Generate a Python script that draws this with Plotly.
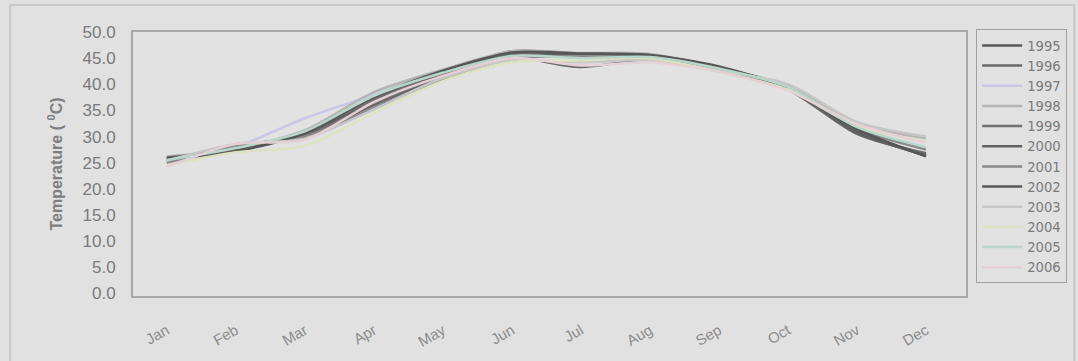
import plotly.graph_objects as go

# Monthly mean maximum temperature (°C), one series per year
months = ["Jan", "Feb", "Mar", "Apr", "May", "Jun",
          "Jul", "Aug", "Sep", "Oct", "Nov", "Dec"]

t1995 = [25.8, 27.8, 30.8, 37.2, 42.2, 46.3, 45.8, 45.6, 43.2, 39.5, 31.2, 26.3]
t1996 = [25.3, 28.2, 30.2, 36.0, 41.4, 45.0, 43.3, 44.8, 42.9, 39.0, 30.5, 26.8]
t1997 = [24.8, 28.0, 33.5, 38.0, 42.4, 45.6, 45.5, 45.3, 43.3, 39.2, 32.5, 29.0]
t1998 = [26.2, 27.6, 31.2, 38.5, 42.8, 46.3, 46.0, 45.8, 43.0, 39.8, 32.5, 29.6]
t1999 = [25.6, 28.0, 30.5, 37.0, 42.0, 45.8, 45.6, 45.4, 43.2, 39.4, 31.0, 26.6]
t2000 = [26.0, 27.5, 30.6, 36.5, 41.8, 45.2, 45.8, 45.2, 42.8, 39.3, 30.8, 26.4]
t2001 = [25.0, 28.3, 30.0, 35.5, 41.0, 44.8, 45.4, 44.9, 42.8, 39.6, 31.5, 27.5]
t2002 = [25.8, 27.2, 30.6, 37.6, 42.6, 46.1, 45.9, 45.6, 43.4, 39.2, 31.4, 26.2]
t2003 = [25.4, 28.6, 29.6, 35.2, 41.2, 44.6, 44.2, 44.6, 42.6, 40.0, 32.8, 30.0]
t2004 = [24.5, 27.0, 28.2, 34.5, 40.6, 44.2, 44.6, 45.0, 42.4, 39.0, 32.0, 29.2]
t2005 = [25.5, 27.8, 31.0, 37.8, 42.2, 45.4, 45.0, 45.2, 43.0, 39.5, 31.8, 28.0]
t2006 = [24.2, 28.6, 29.4, 36.6, 41.6, 45.0, 43.6, 44.2, 42.4, 38.8, 32.4, 28.8]

years = ["1995", "1996", "1997", "1998", "1999", "2000",
         "2001", "2002", "2003", "2004", "2005", "2006"]
series = [t1995, t1996, t1997, t1998, t1999, t2000,
          t2001, t2002, t2003, t2004, t2005, t2006]
colors = ["#585858", "#686868", "#c9c6e6", "#b4b4b4", "#707070", "#606060",
          "#8a8a8a", "#565656", "#c6c6c6", "#dde3c2", "#b9d6ca", "#e4d0d5"]

fig = go.Figure()
for yr, vals, col in zip(years, series, colors):
    fig.add_trace(go.Scatter(
        x=months, y=vals, name=yr, mode="lines",
        line=dict(color=col, width=2.5, shape="spline", smoothing=0.8),
    ))

axis_font = dict(family="Liberation Sans, Arial, sans-serif", color="#7a7a7a")

fig.update_layout(
    width=1078, height=361,
    margin=dict(l=133, r=111, t=32, b=65),
    paper_bgcolor="#e1e1e1",
    plot_bgcolor="#e2e2e2",
    font=axis_font,
    showlegend=True,
    legend=dict(
        x=1.011, y=1.01, xanchor="left", yanchor="top",
        font=dict(family="DejaVu Sans, sans-serif", size=13.2, color="#7a7a7a"),
        bgcolor="rgba(0,0,0,0)",
        bordercolor="#a0a0a0", borderwidth=1,
        tracegroupgap=0,
        itemwidth=40,
        maxheight=330,
    ),
    xaxis=dict(
        type="category",
        range=[-0.49, 11.58],
        showgrid=False, zeroline=False,
        showline=True, linecolor="#a9a9a9", linewidth=2, mirror=True,
        tickangle=-30,
        tickfont=dict(size=15, color="#8c8c8c"),
        ticks="", ticklabelstandoff=18,
    ),
    yaxis=dict(
        range=[-0.5, 50],
        tickvals=[0, 5, 10, 15, 20, 25, 30, 35, 40, 45, 50],
        tickformat=".1f",
        showgrid=False, zeroline=False,
        showline=True, linecolor="#a9a9a9", linewidth=2, mirror=True,
        tickfont=dict(size=17, color="#7a7a7a"),
        ticks="", ticklabelstandoff=12,
        title=dict(
            text="<b>Temperature ( <sup>0</sup>C)</b>",
            font=dict(size=16, color="#7e7e7e"),
            standoff=16,
        ),
    ),
    shapes=[
        # outer chart frame
        dict(type="rect", xref="paper", yref="paper",
             x0=-0.1475, x1=1.13, y0=-0.3, y1=1.102,
             line=dict(color="#c9c9c9", width=2), layer="below"),
    ],
)

fig.write_html("out.html")
